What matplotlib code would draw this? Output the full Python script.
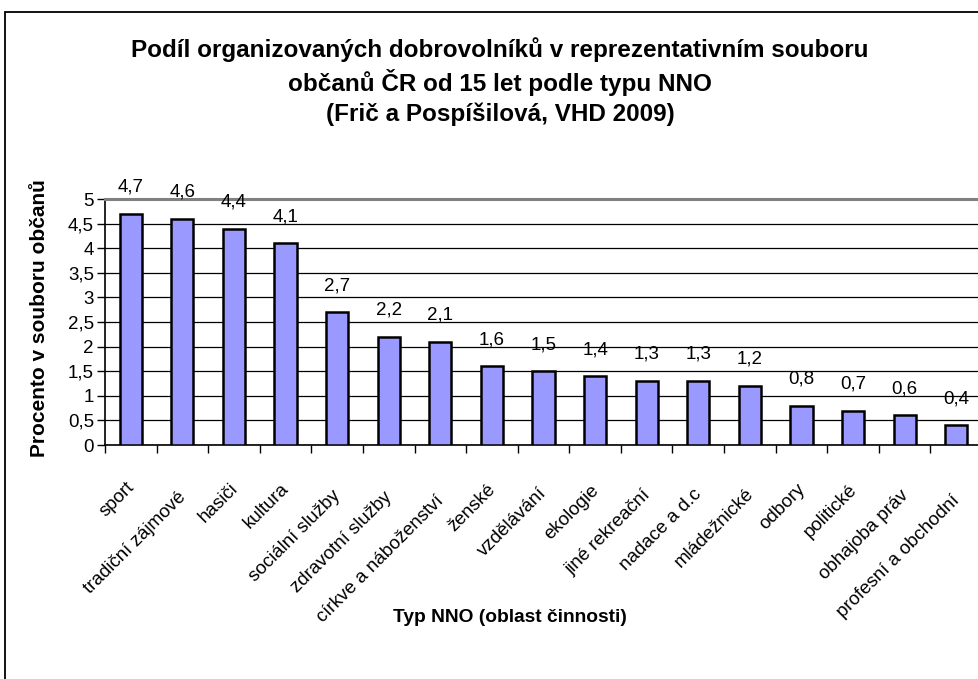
import matplotlib
matplotlib.use("Agg")
import matplotlib.pyplot as plt
import matplotlib.patches as mpatches
import matplotlib.transforms as mtransforms
from matplotlib.ticker import FixedLocator, FuncFormatter, MultipleLocator
import numpy as np

# ── Data ─────────────────────────────────────────────────────────────────────
categories = [
    "sport", "tradiční zájmové", "hasiči", "kultura", "sociální služby",
    "zdravotní služby", "církve a náboženství", "ženské", "vzdělávání",
    "ekologie", "jiné rekreační", "nadace a d.c", "mládežnické", "odbory",
    "politické", "obhajoba práv", "profesní a obchodní",
]
values = [4.7, 4.6, 4.4, 4.1, 2.7, 2.2, 2.1, 1.6, 1.5, 1.4, 1.3, 1.3, 1.2,
          0.8, 0.7, 0.6, 0.4]

title_lines = [
    "Podíl organizovaných dobrovolníků v reprezentativním souboru",
    "občanů ČR od 15 let podle typu NNO",
    "(Frič a Pospíšilová, VHD 2009)",
]
y_label = "Procento v souboru občanů"
x_label = "Typ NNO (oblast činnosti)"

BAR_COLOR = "#9999FF"
FONT = ["Liberation Sans", "DejaVu Sans"]

plt.rcParams["font.family"] = FONT


def cz_num(v, _=None):
    # Czech decimal comma
    return f"{v:g}".replace(".", ",")


W, H = 979, 679
fig = plt.figure(figsize=(W / 100, H / 100), dpi=100)
fig.patch.set_facecolor("white")

# outer chart frame (runs off the right and bottom edges)
fig.patches.append(mpatches.Rectangle(
    (5 / W, -0.1), 1.2, 1 - 12 / H + 0.1,
    transform=fig.transFigure, fill=False, edgecolor="black", linewidth=1.3,
))

# plot area in pixel units
left, right, top, bottom = 105, 982, 199, 445
ax = fig.add_axes([left / W, 1 - bottom / H, (right - left) / W, (bottom - top) / H])

x = np.arange(len(categories))
ax.bar(x, values, width=0.43, color=BAR_COLOR, edgecolor="black",
       linewidth=1.8, zorder=3)

ax.set_xlim(-0.5, len(categories) - 0.5)
ax.set_ylim(0, 5)

# horizontal gridlines
ax.yaxis.set_major_locator(MultipleLocator(0.5))
ax.grid(axis="y", color="black", linewidth=0.9, zorder=1)
ax.yaxis.set_major_formatter(FuncFormatter(cz_num))

ax.spines["right"].set_visible(False)
ax.spines["top"].set_color("#808080")
ax.spines["top"].set_linewidth(2.2)
ax.spines["left"].set_linewidth(1.2)
ax.spines["bottom"].set_linewidth(1.2)

ax.tick_params(axis="y", direction="out", length=6, width=1.0,
               labelsize=13.5, pad=2)

# category labels at bar centres, tick marks between categories
ax.set_xticks(x)
ax.set_xticklabels(categories, rotation=45, ha="right",
                   rotation_mode="anchor", fontsize=13.5)
ax.tick_params(axis="x", which="major", length=0, pad=20)
ax.xaxis.set_minor_locator(FixedLocator(np.arange(-0.5, len(categories), 1)))
ax.tick_params(axis="x", which="minor", direction="out", length=6, width=1.0)

# longer labels sit a little lower, like the spreadsheet layout does
fig.canvas.draw()
renderer = fig.canvas.get_renderer()
for lbl in ax.get_xticklabels():
    w = lbl.get_window_extent(renderer).width
    shift = mtransforms.ScaledTranslation(-5 / 100, -0.15 * w / 100,
                                          fig.dpi_scale_trans)
    lbl.set_transform(lbl.get_transform() + shift)

# value labels above bars
for xi, v in zip(x, values):
    ax.annotate(cz_num(v), (xi, v), xytext=(0, 13),
                textcoords="offset points", ha="center", va="bottom",
                fontsize=13.5, annotation_clip=False, zorder=4)

# titles
for i, line in enumerate(title_lines):
    fig.text(500 / W, 1 - (50 + 32 * i) / H, line, ha="center", va="center",
             fontsize=17.5, fontweight="bold")

fig.text(40 / W, 1 - 318 / H, y_label, rotation=90, ha="center", va="center",
         fontsize=15, fontweight="bold")
fig.text(510 / W, 1 - 617 / H, x_label, ha="center", va="center",
         fontsize=13.75, fontweight="bold")

fig.savefig("out.png", dpi=100, facecolor="white")
